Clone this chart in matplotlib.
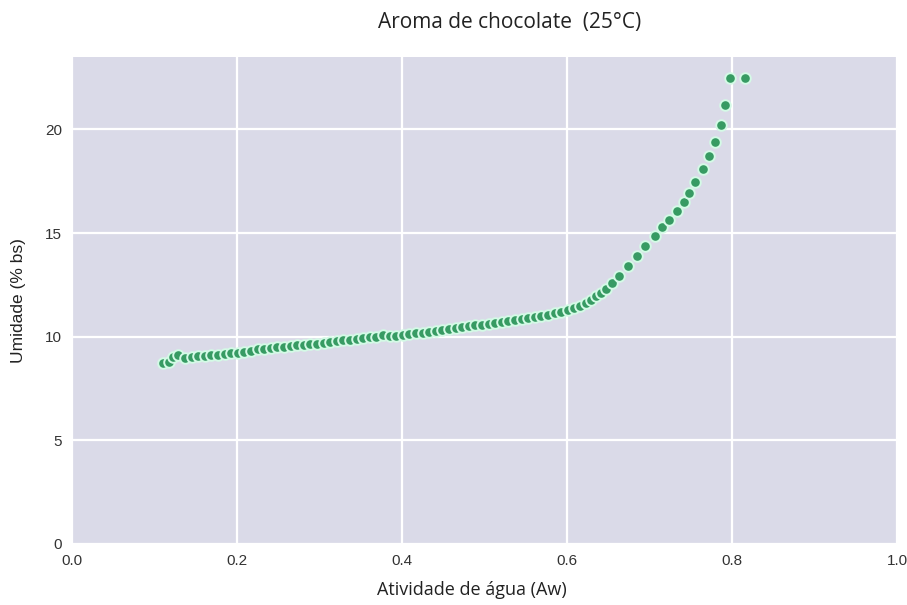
import matplotlib
matplotlib.use("Agg")
import matplotlib.pyplot as plt

# isoterma de sorcao - aroma de chocolate a 25 C
aw = [0.110, 0.117, 0.123, 0.129, 0.137, 0.145, 0.153, 0.161, 0.169, 0.177,
      0.185, 0.193, 0.201, 0.209, 0.217, 0.225, 0.233, 0.241, 0.249, 0.257,
      0.265, 0.273, 0.281, 0.289, 0.297, 0.305, 0.313, 0.321, 0.329, 0.337,
      0.345, 0.353, 0.361, 0.369, 0.377, 0.385, 0.393, 0.401, 0.409, 0.417,
      0.425, 0.433, 0.441, 0.449, 0.457, 0.465, 0.473, 0.481, 0.489, 0.497,
      0.505, 0.513, 0.521, 0.529, 0.537, 0.545, 0.553, 0.561, 0.569, 0.577,
      0.585, 0.593, 0.601, 0.609, 0.616, 0.623, 0.629, 0.635, 0.641, 0.647,
      0.655, 0.663, 0.674, 0.685, 0.695, 0.707, 0.715, 0.724, 0.733, 0.742,
      0.748, 0.755, 0.765, 0.772, 0.779, 0.787, 0.792, 0.798, 0.816]
umidade = [8.73, 8.80, 9.00, 9.10, 8.98, 9.00, 9.05, 9.08, 9.10, 9.13,
           9.16, 9.20, 9.22, 9.27, 9.32, 9.38, 9.42, 9.46, 9.50, 9.52,
           9.55, 9.58, 9.60, 9.63, 9.66, 9.70, 9.74, 9.78, 9.82, 9.86,
           9.90, 9.93, 9.96, 9.98, 10.10, 10.02, 10.05, 10.08, 10.12, 10.16,
           10.20, 10.24, 10.28, 10.33, 10.38, 10.42, 10.46, 10.50, 10.54, 10.58,
           10.62, 10.66, 10.70, 10.74, 10.78, 10.83, 10.88, 10.93, 10.99, 11.06,
           11.13, 11.21, 11.30, 11.40, 11.50, 11.62, 11.78, 11.96, 12.12, 12.30,
           12.60, 12.95, 13.40, 13.90, 14.35, 14.85, 15.30, 15.65, 16.05, 16.50,
           16.95, 17.45, 18.07, 18.70, 19.40, 20.20, 21.20, 22.46, 22.46]

xticks = [0.0, 0.2, 0.4, 0.6, 0.8, 1.0]
yticks = [0, 5, 10, 15, 20]

fig = plt.figure(figsize=(9.07, 6.05), dpi=100)
ax = fig.add_axes([0.0794, 0.101, 0.9096, 0.805])
ax.set_facecolor("#dadae8")
for s in ax.spines.values():
    s.set_visible(False)
ax.grid(True, color="white", linewidth=1.6)
ax.set_axisbelow(True)

ax.scatter(aw, umidade, s=58, color="#379b63", edgecolors="#d4fae6",
           linewidths=1.4, zorder=3)

ax.set_xlim(0, 1.0)
ax.set_ylim(0, 23.5)
ax.set_xticks(xticks)
ax.set_xticklabels(["%.1f" % t for t in xticks])
ax.set_yticks(yticks)
ax.tick_params(length=0, labelsize=11, labelcolor="#333333", pad=7)
for lab in ax.get_xticklabels() + ax.get_yticklabels():
    lab.set_family("Liberation Sans")

ax.set_xlabel("Atividade de água (Aw)", fontsize=13, color="#222222",
              family="Open Sans", va="center")
ax.xaxis.set_label_coords(0.485, -0.094)
ax.set_ylabel("Umidade (% bs)", fontsize=12.5, color="#222222",
              labelpad=14, family="Liberation Sans")
fig.text(0.562, 0.963, "Aroma de chocolate  (25°C)", ha="center", va="center",
         fontsize=15, family="Open Sans", color="#222222")

fig.savefig("out.png", dpi=100, facecolor="white")
